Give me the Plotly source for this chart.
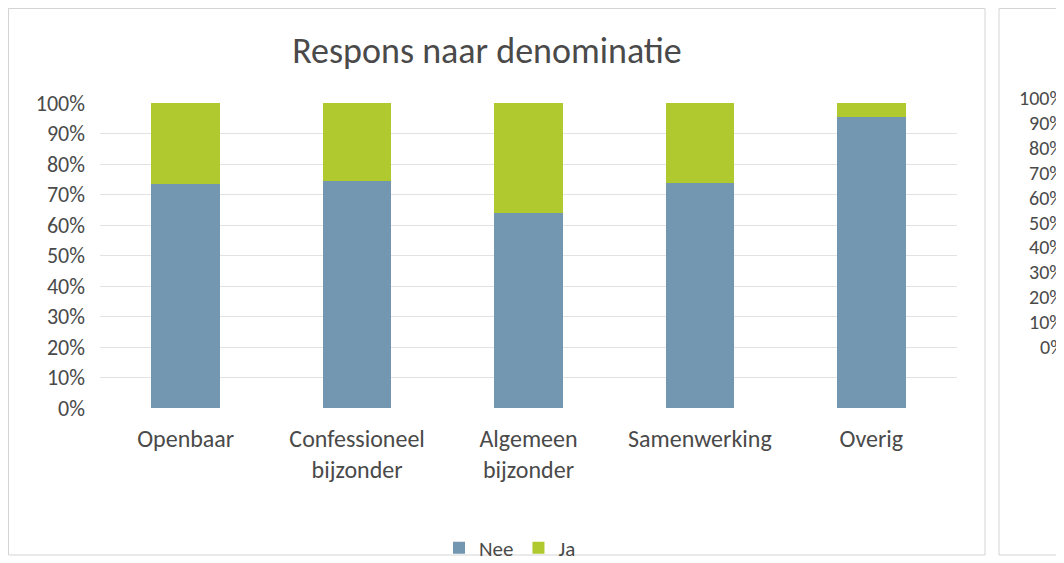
import plotly.graph_objects as go

# ---- data ----
categories = ["Openbaar", "Confessioneel<br>bijzonder", "Algemeen<br>bijzonder", "Samenwerking", "Overig"]
nee_values = [0.734, 0.743, 0.639, 0.738, 0.954]
ja_values = [0.266, 0.257, 0.361, 0.262, 0.046]
series_names = ["Nee", "Ja"]
y_tick_values = [0, 0.1, 0.2, 0.3, 0.4, 0.5, 0.6, 0.7, 0.8, 0.9, 1.0]
y_tick_labels = ["0%", "10%", "20%", "30%", "40%", "50%", "60%", "70%", "80%", "90%", "100%"]
title_text = "Respons naar denominatie"

# ---- style ----
W, H = 1064, 563
OFF = 8  # page body margin in the browser
FONT = "Carlito, Lato, 'Open Sans', sans-serif"
TXT = "#4a4a4a"
NEE_COL = "#7497b1"
JA_COL = "#afc92e"
GRID = "#e2e2e2"

def px_x(p):
    return (p - OFF) / W

def px_y(p):
    return 1 - (p - OFF) / H

fig = go.Figure()
fig.add_trace(go.Bar(x=categories, y=nee_values, name=series_names[0], marker_color=NEE_COL,
                     marker_line_width=0))
fig.add_trace(go.Bar(x=categories, y=ja_values, name=series_names[1], marker_color=JA_COL,
                     marker_line_width=0))

fig.update_layout(
    width=W, height=H,
    margin=dict(l=0, r=0, t=0, b=0, autoexpand=False),
    paper_bgcolor="white", plot_bgcolor="white",
    barmode="stack", bargap=0.6,
    font=dict(family=FONT, color=TXT),
    title=dict(text=title_text, x=px_x(487), xanchor="center", y=px_y(50), yanchor="middle",
               automargin=False,
               font=dict(family=FONT, size=36, color=TXT, weight=300)),
    xaxis=dict(domain=[px_x(100), px_x(957)], showgrid=False, zeroline=False, showline=False,
               automargin=False,
               ticks="", tickfont=dict(size=24, color=TXT), ticklabelstandoff=14),
    yaxis=dict(domain=[px_y(408), px_y(103)], range=[0, 1], tickvals=y_tick_values,
               ticktext=y_tick_labels, showgrid=True, gridcolor=GRID, gridwidth=1,
               automargin=False,
               zeroline=False, showline=False, ticks="", tickfont=dict(size=22, color=TXT),
               ticklabelstandoff=14),
    xaxis2=dict(domain=[0.995, 1.0], anchor="y2", visible=False, range=[0, 1], automargin=False),
    yaxis2=dict(domain=[px_y(347), px_y(98)], anchor="x2", visible=False, range=[0, 1],
                automargin=False),
    legend=dict(orientation="h", x=px_x(510), xanchor="center", y=px_y(548), yanchor="middle",
                font=dict(size=21, color=TXT), itemwidth=30, traceorder="normal",
                bgcolor="rgba(0,0,0,0)"),
    showlegend=True,
)

# chart borders (main panel and the cut-off neighbouring panel)
fig.add_shape(type="rect", xref="paper", yref="paper",
              x0=px_x(8.5), x1=px_x(985), y0=px_y(555), y1=px_y(8.5),
              line=dict(color="#d4d4d4", width=1), layer="below")
fig.add_shape(type="rect", xref="paper", yref="paper",
              x0=px_x(999), x1=px_x(1080), y0=px_y(555), y1=px_y(8.5),
              line=dict(color="#d4d4d4", width=1), layer="below")

# cut-off axis labels of the neighbouring chart
for v, t in zip(y_tick_values, y_tick_labels):
    fig.add_annotation(x=px_x(1066), xref="paper", y=v, yref="y2", text=t, showarrow=False,
                       xanchor="right", yanchor="middle",
                       font=dict(family=FONT, size=20, color=TXT))

fig.write_html("out.html")
